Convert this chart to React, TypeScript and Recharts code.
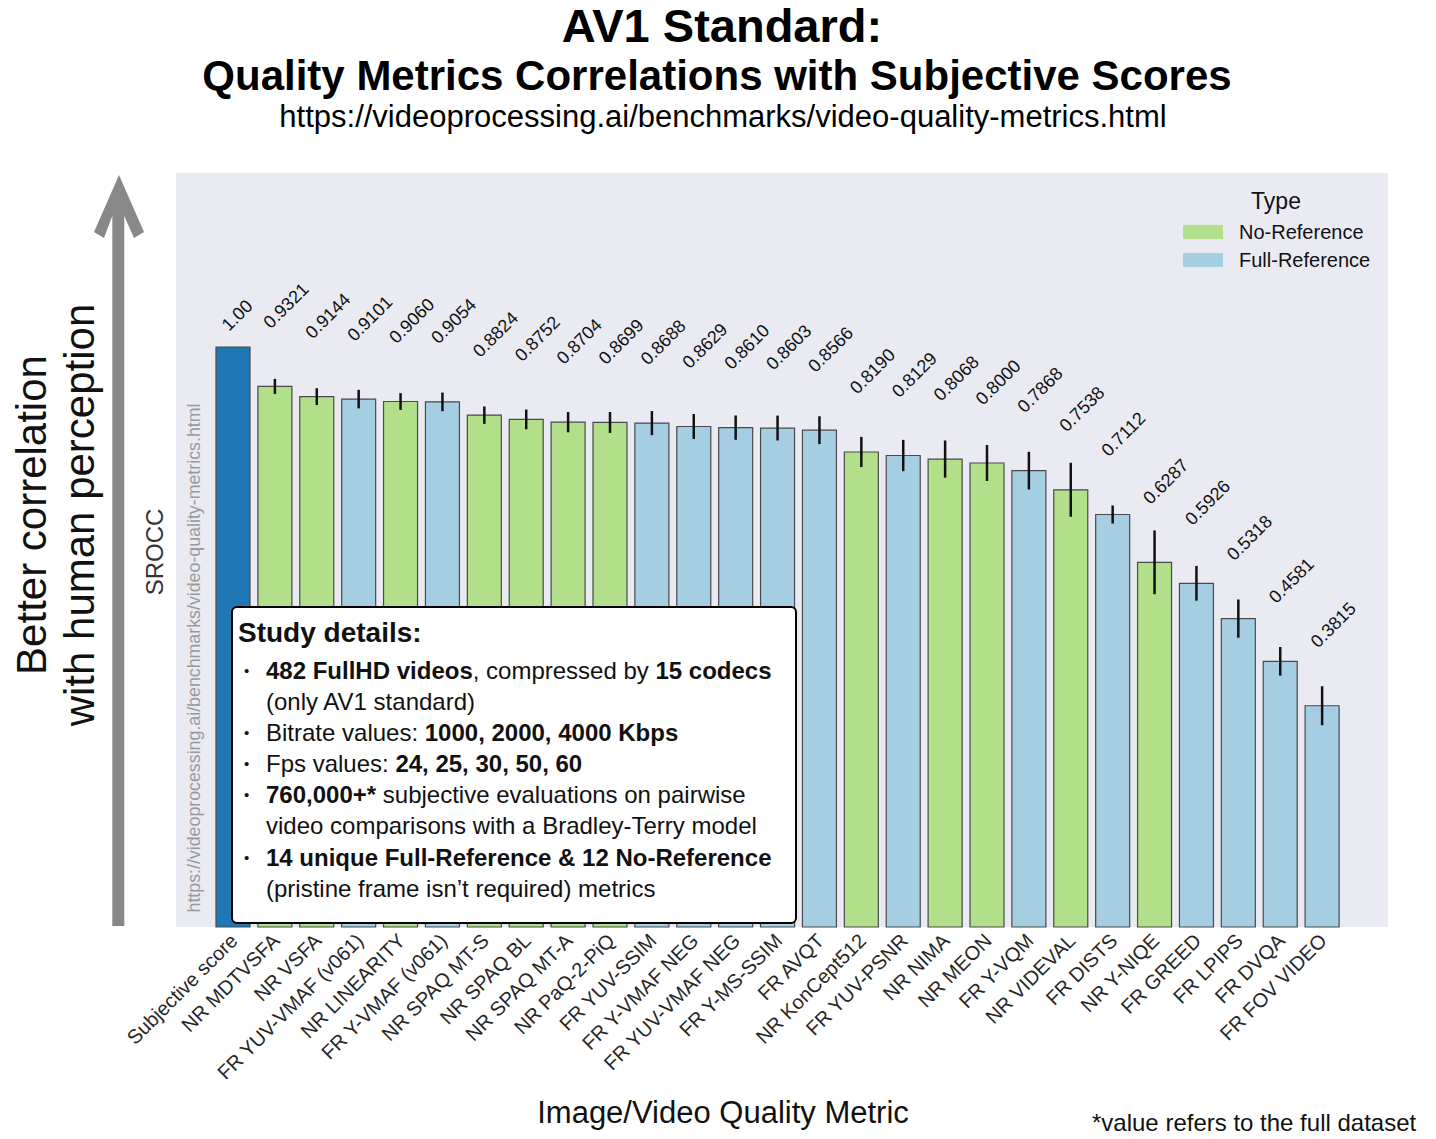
import React from "react";
import { BarChart, Bar, XAxis, YAxis, CartesianGrid, ErrorBar, Cell, LabelList } from "recharts";

const metrics = [
  "Subjective score",
  "NR MDTVSFA",
  "NR VSFA",
  "FR YUV-VMAF (v061)",
  "NR LINEARITY",
  "FR Y-VMAF (v061)",
  "NR SPAQ MT-S",
  "NR SPAQ BL",
  "NR SPAQ MT-A",
  "NR PaQ-2-PiQ",
  "FR YUV-SSIM",
  "FR Y-VMAF NEG",
  "FR YUV-VMAF NEG",
  "FR Y-MS-SSIM",
  "FR AVQT",
  "NR KonCept512",
  "FR YUV-PSNR",
  "NR NIMA",
  "NR MEON",
  "FR Y-VQM",
  "NR VIDEVAL",
  "FR DISTS",
  "NR Y-NIQE",
  "FR GREED",
  "FR LPIPS",
  "FR DVQA",
  "FR FOV VIDEO",
];

const srocc = [
  1.0, 0.9321, 0.9144, 0.9101, 0.906, 0.9054, 0.8824, 0.8752, 0.8704, 0.8699, 0.8688, 0.8629, 0.861, 0.8603,
  0.8566, 0.819, 0.8129, 0.8068, 0.8, 0.7868, 0.7538, 0.7112, 0.6287, 0.5926, 0.5318, 0.4581, 0.3815,
];

// half length of the confidence interval
const errors = [
  0, 0.013, 0.0145, 0.016, 0.0144, 0.016, 0.015, 0.017, 0.0175, 0.018, 0.0207, 0.0215, 0.021, 0.0215, 0.024,
  0.026, 0.027, 0.032, 0.031, 0.0325, 0.0465, 0.0155, 0.055, 0.03, 0.033, 0.0247, 0.0336,
];

const metricTypes = [
  "subjective", "NR", "NR", "FR", "NR", "FR", "NR", "NR", "NR", "NR", "FR", "FR", "FR", "FR", "FR",
  "NR", "FR", "NR", "NR", "FR", "NR", "FR", "NR", "FR", "FR", "FR", "FR",
];

const typeColors: Record<string, string> = {
  subjective: "#1f78b4",
  NR: "#b2df8a",
  FR: "#a6cee3",
};

const legendItems = [
  { label: "No-Reference", color: typeColors.NR },
  { label: "Full-Reference", color: typeColors.FR },
];

const chartData = metrics.map((name, i) => ({
  name,
  value: srocc[i],
  err: errors[i],
  type: metricTypes[i],
}));

const FONT = '"Liberation Sans", Arial, Helvetica, sans-serif';

const MetricTick = (props: any) => {
  const { x, y, payload } = props;
  const ax = x + 6;
  const ay = y + 7;
  return (
    <text
      x={ax}
      y={ay}
      transform={`rotate(-45, ${ax}, ${ay})`}
      textAnchor="end"
      fontSize={20}
      fontFamily={FONT}
      fill="#262626"
    >
      {payload.value}
    </text>
  );
};

const ValueLabel = (props: any) => {
  const { x, y, width, value, index } = props;
  const first = index === 0;
  const ax = x + width / 2 - 4;
  const ay = y - (first ? 15 : 57);
  const text = first ? Number(value).toFixed(2) : Number(value).toFixed(4);
  return (
    <text
      x={ax}
      y={ay}
      transform={`rotate(-45, ${ax}, ${ay})`}
      textAnchor="start"
      fontSize={18}
      fontFamily={FONT}
      fill="#111"
    >
      {text}
    </text>
  );
};

function StudyBox() {
  const bullet = (content: React.ReactNode) => (
    <div style={{ position: "relative", paddingLeft: 33 }}>
      <span style={{ position: "absolute", left: 11, top: 0, fontSize: 15 }}>•</span>
      {content}
    </div>
  );
  return (
    <div
      style={{
        position: "absolute",
        left: 231,
        top: 606,
        width: 562,
        height: 306,
        border: "2px solid #000",
        borderRadius: 6,
        background: "#fff",
        fontFamily: FONT,
        color: "#111",
        fontSize: 24,
        lineHeight: "31.1px",
        paddingTop: 8,
        boxSizing: "content-box",
      }}
    >
      <div style={{ fontSize: 28, fontWeight: "bold", lineHeight: "34px", paddingLeft: 5, marginBottom: 5 }}>
        Study details:
      </div>
      {bullet(
        <>
          <b>482 FullHD videos</b>, compressed by <b>15 codecs</b>
          <br />
          (only AV1 standard)
        </>
      )}
      {bullet(
        <>
          Bitrate values: <b>1000, 2000, 4000 Kbps</b>
        </>
      )}
      {bullet(
        <>
          Fps values: <b>24, 25, 30, 50, 60</b>
        </>
      )}
      {bullet(
        <>
          <b>760,000+*</b> subjective evaluations on pairwise
          <br />
          video comparisons with a Bradley-Terry model
        </>
      )}
      {bullet(
        <>
          <b>14 unique Full-Reference &amp; 12 No-Reference</b>
          <br />
          (pristine frame isn’t required) metrics
        </>
      )}
    </div>
  );
}

function TypeLegend() {
  return (
    <div style={{ position: "absolute", left: 1170, top: 186, width: 210, fontFamily: FONT, color: "#111" }}>
      <div style={{ position: "absolute", left: 0, top: 0, width: 212, textAlign: "center", fontSize: 23, lineHeight: "30px" }}>
        Type
      </div>
      {legendItems.map((item, i) => (
        <div key={item.label} style={{ position: "absolute", left: 0, top: 32 + i * 28, height: 28, width: 210 }}>
          <div style={{ position: "absolute", left: 13, top: 7, width: 40, height: 14, background: item.color }} />
          <div style={{ position: "absolute", left: 69, top: 0, fontSize: 20, lineHeight: "28px", whiteSpace: "nowrap" }}>
            {item.label}
          </div>
        </div>
      ))}
    </div>
  );
}

function Annotations() {
  return (
    <svg
      width={1436}
      height={1139}
      style={{ position: "absolute", left: 0, top: 0, pointerEvents: "none" }}
      fontFamily={FONT}
    >
      <text x={722} y={42} textAnchor="middle" fontSize={47} fontWeight="bold" fill="#000">
        AV1 Standard:
      </text>
      <text x={717} y={90} textAnchor="middle" fontSize={42} fontWeight="bold" fill="#000">
        Quality Metrics Correlations with Subjective Scores
      </text>
      <text x={723} y={127} textAnchor="middle" fontSize={31} fill="#000">
        https://videoprocessing.ai/benchmarks/video-quality-metrics.html
      </text>

      <polygon
        points="119,175 144,232 134,238 124.3,216 124.3,926 112.3,926 112.3,216 104,238 94,232"
        fill="#888888"
      />
      <text x={46} y={515} transform="rotate(-90, 46, 515)" textAnchor="middle" fontSize={42} fill="#111">
        Better correlation
      </text>
      <text x={94} y={515} transform="rotate(-90, 94, 515)" textAnchor="middle" fontSize={42} fill="#111">
        with human perception
      </text>

      <text x={163} y={552} transform="rotate(-90, 163, 552)" textAnchor="middle" fontSize={24} fill="#333">
        SROCC
      </text>
      <text x={200} y={658} transform="rotate(-90, 200, 658)" textAnchor="middle" fontSize={17.8} fill="#9a9a9a">
        https://videoprocessing.ai/benchmarks/video-quality-metrics.html
      </text>

      <text x={723} y={1123} textAnchor="middle" fontSize={31} fill="#111">
        Image/Video Quality Metric
      </text>
      <text x={1092} y={1131} fontSize={24} fill="#111">
        *value refers to the full dataset
      </text>
    </svg>
  );
}

export default function App() {
  return (
    <div style={{ position: "absolute", left: 0, top: 0, width: 1436, height: 1139, background: "#fff" }}>
      <BarChart
        width={1436}
        height={1139}
        data={chartData}
        margin={{ top: 173, right: 48, left: 176, bottom: 32 }}
      >
        <CartesianGrid fill="#eaeaf2" stroke="none" horizontal={false} vertical={false} />
        <XAxis
          dataKey="name"
          interval={0}
          height={180}
          tickLine={false}
          axisLine={false}
          padding={{ left: 36, right: 45 }}
          tick={MetricTick}
        />
        <YAxis hide domain={[0, 1.3]} width={0} />
        <Bar dataKey="value" barSize={34} stroke="#4a4a4a" strokeWidth={1.2} isAnimationActive={false}>
          {chartData.map((d) => (
            <Cell key={d.name} fill={typeColors[d.type]} />
          ))}
          <ErrorBar dataKey="err" width={0} strokeWidth={2.5} stroke="#111" />
          <LabelList dataKey="value" content={ValueLabel} />
        </Bar>
      </BarChart>
      <Annotations />
      <TypeLegend />
      <StudyBox />
    </div>
  );
}
